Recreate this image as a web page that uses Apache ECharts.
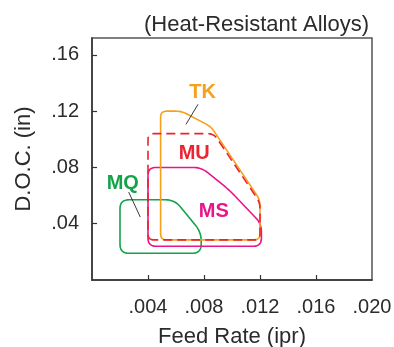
<!DOCTYPE html>
<html><head><meta charset="utf-8">
<script src="https://cdn.jsdelivr.net/npm/echarts@6/dist/echarts.min.js"></script>
<style>html,body{margin:0;padding:0;background:#fff}#c{width:394px;height:347px}</style>
</head><body><div id="c"></div>
<script>
// ---- data ----
const xTicks = [0.004, 0.008, 0.012, 0.016, 0.020];
const yTicks = [0.04, 0.08, 0.12, 0.16];
const regionNames = ['TK', 'MU', 'MS', 'MQ'];
const tkOutline = [[0.0049,0.0285],[0.0049,0.120],[0.0064,0.120],[0.0085,0.109],[0.0120,0.057],[0.0120,0.0285]];
const muOutline = [[0.0040,0.0285],[0.0040,0.104],[0.0087,0.104],[0.0120,0.055],[0.0120,0.0285]];
const msOutline = [[0.0040,0.024],[0.0040,0.080],[0.0078,0.080],[0.0098,0.064],[0.0121,0.040],[0.0121,0.024]];
const mqOutline = [[0.0020,0.019],[0.0020,0.057],[0.0059,0.057],[0.0078,0.034],[0.0078,0.019]];
const labelPos = [[0.0079,0.133],[0.0073,0.090],[0.0087,0.049],[0.0022,0.0687]];
const tkLeader = [[0.00757,0.1248],[0.00671,0.1106]];
const mqLeader = [[0.00262,0.0625],[0.00345,0.0447]];

// ---- styles ----
const colors = {TK:'#F6A01C', MU:'#EC2330', MS:'#E8168A', MQ:'#14A34A'};
const FONT = '"Liberation Sans", Arial, Helvetica, sans-serif';
const TXT = '#2b2b2b';

function roundedPoints(pts, r) {
  const out = [];
  const n = pts.length;
  for (let i = 0; i < n; i++) {
    const p = pts[i], a = pts[(i - 1 + n) % n], b = pts[(i + 1) % n];
    const d1 = Math.hypot(a[0]-p[0], a[1]-p[1]), d2 = Math.hypot(b[0]-p[0], b[1]-p[1]);
    const rr = Math.min(r, d1/2, d2/2);
    const s = [p[0]+(a[0]-p[0])*rr/d1, p[1]+(a[1]-p[1])*rr/d1];
    const e = [p[0]+(b[0]-p[0])*rr/d2, p[1]+(b[1]-p[1])*rr/d2];
    for (let k = 0; k <= 10; k++) {
      const t = k/10, u = 1-t;
      out.push([u*u*s[0]+2*u*t*p[0]+t*t*e[0], u*u*s[1]+2*u*t*p[1]+t*t*e[1]]);
    }
  }
  out.push(out[0]);
  return out;
}

function outlineSeries(name, pts, color, r, dashed, z) {
  return {
    type: 'custom', name: name, coordinateSystem: 'cartesian2d', data: pts, silent: true, z: z,
    renderItem: function (params, api) {
      if (params.dataIndex !== 0) return null;
      const px = pts.map(p => api.coord(p));
      return {
        type: 'polyline',
        shape: {points: roundedPoints(px, r)},
        style: {stroke: color, fill: null, lineWidth: 1.6, lineDash: dashed ? [9, 5] : null}
      };
    }
  };
}

function leaderSeries(pts) {
  return {type: 'line', data: pts, symbol: 'none', silent: true, z: 5,
    lineStyle: {color: '#222', width: 0.9}};
}

const chart = echarts.init(document.getElementById('c'), null, {renderer: 'canvas'});
chart.setOption({
  animation: false,
  title: {
    text: '(Heat-Resistant Alloys)', right: 20, top: 9,
    textStyle: {fontFamily: FONT, fontSize: 22, fontWeight: 'normal', color: TXT}
  },
  grid: {left: 92, right: 22, top: 38, bottom: 67, show: true, borderColor: '#555', borderWidth: 1.5,
    containLabel: false, outerBoundsMode: 'none'},
  xAxis: {
    type: 'value', min: 0, max: 0.020, interval: 0.004,
    name: 'Feed Rate (ipr)', nameLocation: 'middle', nameGap: 46,
    nameTextStyle: {fontFamily: FONT, fontSize: 22, color: TXT},
    axisLine: {show: true, lineStyle: {color: '#333', width: 1.5}},
    axisTick: {show: true, inside: true, length: 5, customValues: xTicks.slice(0, 4), lineStyle: {color: '#333', width: 1.2}},
    axisLabel: {fontFamily: FONT, fontSize: 20, color: TXT, margin: 17, customValues: xTicks,
      formatter: v => v === 0 ? '' : v.toFixed(3).replace(/^0/, '')},
    splitLine: {show: false}
  },
  yAxis: {
    type: 'value', min: 0, max: 0.172, interval: 0.04,
    name: 'D.O.C. (in)', nameLocation: 'middle', nameGap: 57, nameRotate: 90,
    nameTextStyle: {fontFamily: FONT, fontSize: 22, color: TXT},
    axisLine: {show: true, lineStyle: {color: '#333', width: 1.5}},
    axisTick: {show: true, inside: true, length: 5, customValues: yTicks, lineStyle: {color: '#333', width: 1.2}},
    axisLabel: {fontFamily: FONT, fontSize: 20, color: TXT, margin: 13, customValues: yTicks,
      formatter: v => (v === 0 || v > 0.165) ? '' : v.toFixed(2).replace(/^0/, '')},
    splitLine: {show: false}
  },
  series: [
    outlineSeries('MQ', mqOutline, colors.MQ, 9, false, 2),
    outlineSeries('MS', msOutline, colors.MS, 8, false, 3),
    outlineSeries('TK', tkOutline, colors.TK, 6, false, 4),
    outlineSeries('MU', muOutline, colors.MU, 6, true, 4.5),
    leaderSeries(tkLeader),
    leaderSeries(mqLeader),
    {
      type: 'scatter', symbolSize: 0, silent: true, z: 6,
      itemStyle: {opacity: 1},
      data: regionNames.map((n, i) => ({value: labelPos[i], name: n,
        label: {color: colors[n]}})),
      label: {show: true, position: 'inside', formatter: p => p.name,
        fontFamily: FONT, fontSize: 20, fontWeight: 'bold', opacity: 1}
    }
  ]
});
</script></body></html>
